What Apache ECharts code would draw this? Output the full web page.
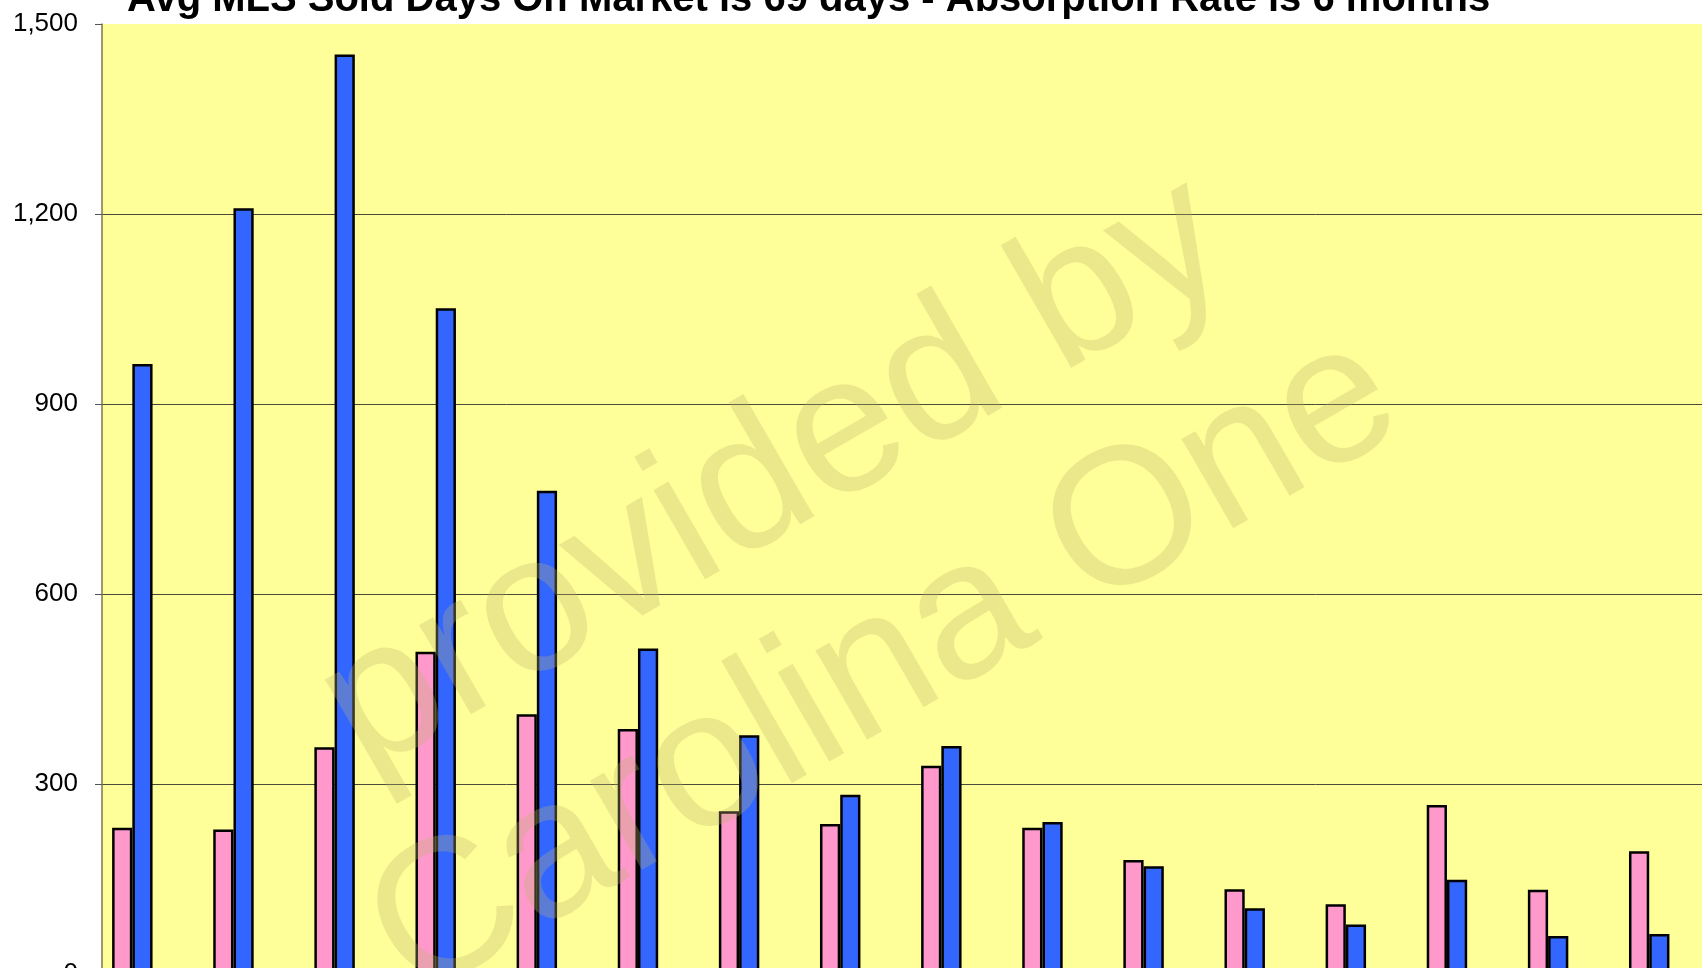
<!DOCTYPE html>
<html>
<head>
<meta charset="utf-8">
<script src="https://cdn.jsdelivr.net/npm/echarts@6/dist/echarts.min.js"></script>
<style>
  html, body { margin: 0; padding: 0; overflow: hidden; background: #fff; }
  #chart { width: 1760px; height: 1010px; }
</style>
</head>
<body>
<div id="chart"></div>
<script>
  // values (axis labels are cropped out of view)
  let categories = ['1','2','3','4','5','6','7','8','9','10','11','12','13','14','15','16']
  let soldData   = [231, 228, 358, 509, 410, 387, 257, 237, 329, 231, 180, 134, 110, 267, 133, 194]
  let activeData = [963, 1209, 1452, 1051, 763, 514, 377, 283, 360, 240, 170, 104, 78, 149, 60, 63]
  let yTicks = [0, 300, 600, 900, 1200, 1500]

  let titleText = 'Avg MLS Sold Days On Market is 69 days - Absorption Rate is 6 months'
  let fontFam = 'Liberation Sans, Arial, sans-serif'

  let chart = echarts.init(document.getElementById('chart'))
  let barStyle = (color) => ({ color: color, borderColor: '#000', borderWidth: 2.5 })

  let option = {
    animation: false,
    title: {
      text: titleText,
      left: 122,
      top: -25,
      textStyle: { fontFamily: fontFam, fontSize: 40, fontWeight: 'bold', color: '#000' }
    },
    grid: {
      left: 102,
      top: 24,
      width: 1618,
      height: 950,
      show: true,
      backgroundColor: '#ffff99',
      borderWidth: 0
    },
    xAxis: {
      type: 'category',
      data: categories,
      axisLine: { show: false },
      axisTick: { show: false },
      axisLabel: { show: false }
    },
    yAxis: {
      type: 'value',
      min: yTicks[0],
      max: yTicks[yTicks.length - 1],
      interval: 300,
      axisLine: { show: true, lineStyle: { color: '#7a7850', width: 1.5 } },
      axisTick: { show: true, length: 7, lineStyle: { color: '#555' } },
      axisLabel: {
        margin: 24,
        fontFamily: fontFam,
        fontSize: 26,
        color: '#000',
        formatter: (v) => v.toLocaleString('en-US')
      },
      splitLine: { show: true, showMaxLine: false, lineStyle: { color: '#4a4a3a', width: 1 } }
    },
    series: [
      { name: 'Sold', type: 'bar', data: soldData, barGap: '0%', barCategoryGap: '20%', itemStyle: barStyle('#ff99cc') },
      { name: 'Active', type: 'bar', data: activeData, itemStyle: barStyle('#3366ff') },
      // two empty series in the original cluster, keep the spacing
      { name: 'Pending', type: 'bar', data: [], itemStyle: barStyle('#ffff00') },
      { name: 'Expired', type: 'bar', data: [], itemStyle: barStyle('#00ffff') }
    ],
    graphic: [
      {
        type: 'text',
        x: 830,
        y: 572,
        rotation: Math.PI / 6,
        z: 100,
        silent: true,
        style: {
          text: 'provided by\nCarolina One',
          fontFamily: fontFam,
          fontSize: 195,
          lineHeight: 220,
          fill: 'rgba(190,180,110,0.3)',
          align: 'center',
          verticalAlign: 'middle'
        }
      }
    ]
  }
  chart.setOption(option)
</script>
</body>
</html>
